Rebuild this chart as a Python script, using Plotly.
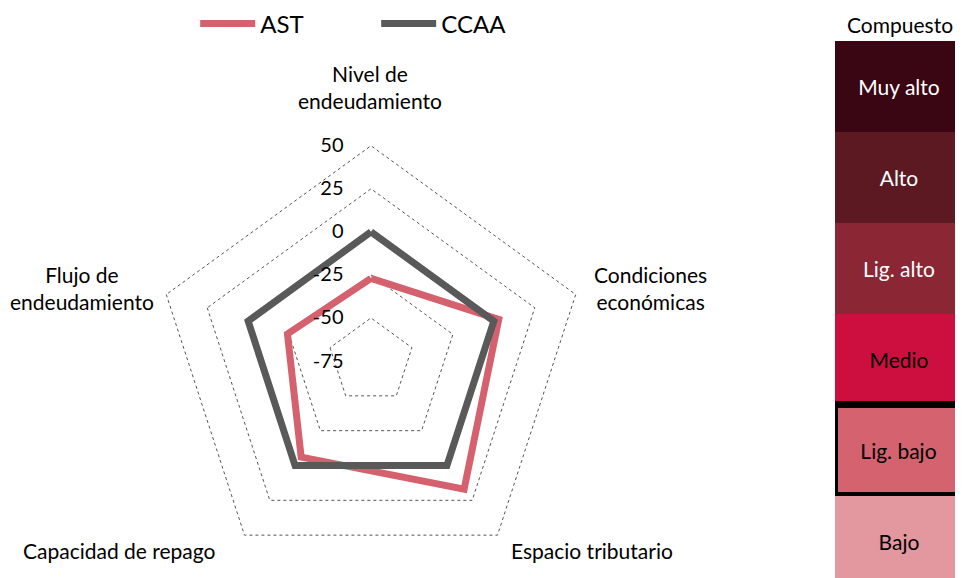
import plotly.graph_objects as go

# Data
categories = ["Nivel de<br>endeudamiento", "Condiciones<br>económicas", "Espacio tributario",
              "Capacidad de repago", "Flujo de<br>endeudamiento"]
ast_values = [-27, 3, 17, -6, -24]
ccaa_values = [0, 0, 0, 0, 0]
radial_ticks = [50, 25, 0, -25, -50, -75]

levels = ["Muy alto", "Alto", "Lig. alto", "Medio", "Lig. bajo", "Bajo"]
level_colors = ["#3b0613", "#5c1922", "#8b2634", "#cd0f40", "#d5626f", "#e3979f"]
level_text_colors = ["white", "white", "white", "black", "black", "black"]
current_level = "Lig. bajo"

FONT = "Lato"
W, H = 955, 570  # page body adds an 8px margin
colors = {"AST": "#d5606e", "CCAA": "#595959"}

fig = go.Figure()

for name, vals in [("AST", ast_values), ("CCAA", ccaa_values)]:
    fig.add_trace(go.Scatterpolar(
        r=vals + vals[:1],
        theta=categories + categories[:1],
        mode="lines",
        name=name,
        line=dict(color=colors[name], width=7),
        subplot="polar",
    ))

# Composite scale on the right, drawn as a stacked single bar
n = len(levels)
fig.add_trace(go.Bar(
    x=[0] * n,
    y=[1] * n,
    base=list(range(n - 1, -1, -1)),
    width=1,
    marker=dict(
        color=level_colors,
        line=dict(color="black", width=[7 if l == current_level else 0 for l in levels]),
    ),
    text=levels,
    textposition="inside",
    insidetextanchor="middle",
    textangle=0,
    textfont=dict(color=level_text_colors, size=21, family=FONT),
    showlegend=False,
    hoverinfo="skip",
    xaxis="x", yaxis="y",
))

# category labels around the radar
label_pos = [(362, 79), (642, 280), (584, 542), (111, 542), (74, 280)]
annotations = [dict(
    text=c, xref="paper", yref="paper", x=px / W, y=1 - py / H,
    xanchor="center", yanchor="middle", showarrow=False, align="center",
    font=dict(size=21),
) for c, (px, py) in zip(categories, label_pos)]
annotations.append(dict(
    text="Compuesto", xref="paper", yref="paper", x=892 / W, y=1 - 17 / H,
    xanchor="center", yanchor="middle", showarrow=False, font=dict(size=21),
))

fig.update_layout(
    width=W, height=H,
    margin=dict(l=0, r=0, t=0, b=0, autoexpand=False),
    paper_bgcolor="white",
    plot_bgcolor="white",
    font=dict(family=FONT, size=20, color="black"),
    showlegend=True,
    legend=dict(
        orientation="h", x=0.196, y=1 - 16 / H, xanchor="left", yanchor="middle",
        entrywidth=111, entrywidthmode="pixels",
        font=dict(size=24), itemwidth=55,
    ),
    polar=dict(
        domain=dict(x=[0.1529, 0.6073], y=[0.0, 0.7614]),
        bgcolor="white",
        gridshape="linear",
        radialaxis=dict(
            range=[-75, 51],
            tickvals=radial_ticks,
            ticktext=[str(t) for t in radial_ticks],
            angle=90,
            tickangle=90,
            side="counterclockwise",
            showline=False,
            ticks="outside", ticklen=20, tickcolor="rgba(0,0,0,0)",
            gridcolor="#555555", griddash="dot", gridwidth=1,
            tickfont=dict(size=20),
        ),
        angularaxis=dict(
            rotation=90,
            direction="clockwise",
            showgrid=False,
            showline=False,
            showticklabels=False,
            ticks="",
        ),
    ),
    xaxis=dict(domain=[827 / W, 1.0], range=[-0.5, 0.5], visible=False, fixedrange=True),
    yaxis=dict(domain=[0, 537 / H], range=[n - 537 / 91, n], visible=False, fixedrange=True),
    bargap=0,
    annotations=annotations,
)

fig.write_html("out.html")
